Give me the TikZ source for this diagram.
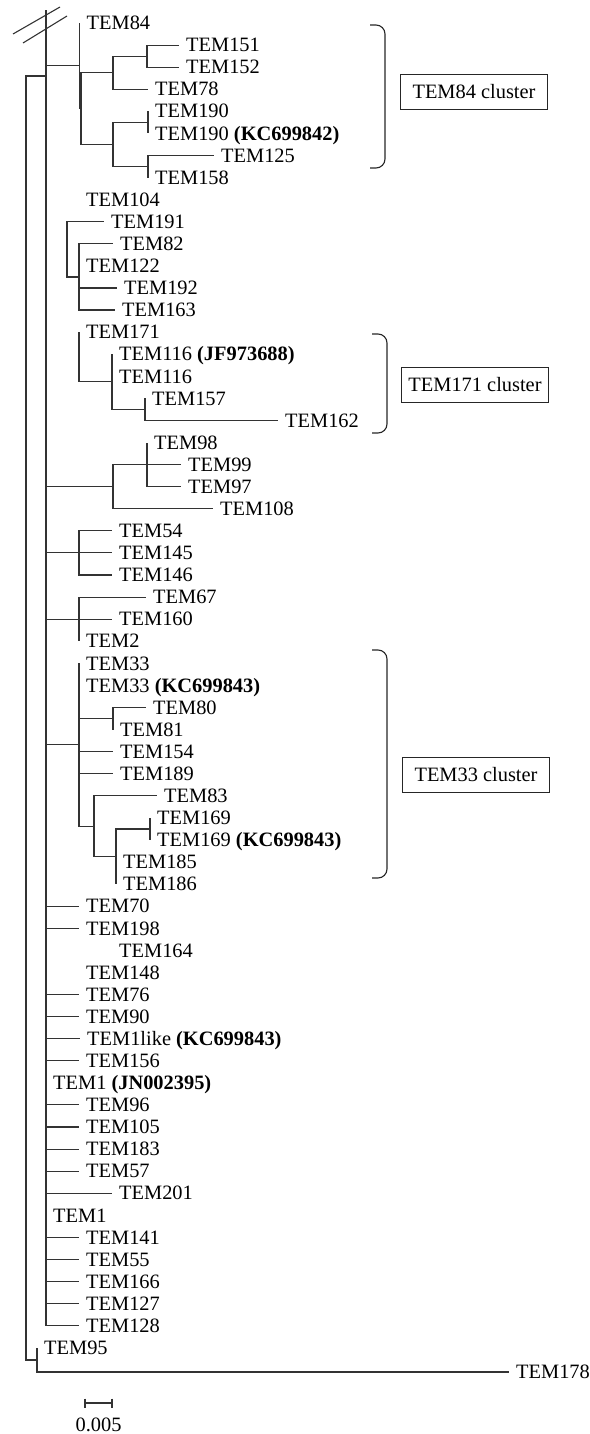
\documentclass[tikz,border=0pt]{standalone}
\usepackage{fontspec}
\setmainfont{Liberation Serif}
\pgfdeclarelayer{edgelayer}
\pgfdeclarelayer{nodelayer}
\pgfsetlayers{edgelayer,nodelayer,main}
\tikzstyle{none}=[inner sep=0mm]
\tikzstyle{leaf}=[anchor=west,inner xsep=7pt,inner ysep=0pt,text height=13.4pt,text depth=0pt,font=\fontsize{20.4}{24}\selectfont]
\tikzstyle{br}=[draw=black!80,line width=1.1pt]
\tikzstyle{brk}=[draw=black!85,line width=1.1pt,rounded corners=9pt]
\tikzstyle{cl}=[draw=black!85,line width=1.1pt,minimum width=147pt,minimum height=35pt,inner sep=0pt,font=\fontsize{20.4}{24}\selectfont]
\tikzstyle{lbl}=[inner sep=0pt,font=\fontsize{20.4}{24}\selectfont]

\begin{document}
\begin{tikzpicture}[x=1pt,y=-1pt]
	\useasboundingbox (0,0) rectangle (589,1434);
	\begin{pgfonlayer}{nodelayer}
		% leaves, one row each
		\node [style=leaf] (0) at (79.5, 23) {TEM84};
		\node [style=leaf] (1) at (179, 45.1) {TEM151};
		\node [style=leaf] (2) at (179, 67.2) {TEM152};
		\node [style=leaf] (3) at (148, 89.2) {TEM78};
		\node [style=leaf] (4) at (148, 111.3) {TEM190};
		\node [style=leaf] (5) at (148, 133.4) {TEM190 \textbf{(KC699842)}};
		\node [style=leaf] (6) at (214, 155.5) {TEM125};
		\node [style=leaf] (7) at (148, 177.6) {TEM158};
		\node [style=leaf] (8) at (79, 199.6) {TEM104};
		\node [style=leaf] (9) at (104, 221.7) {TEM191};
		\node [style=leaf] (10) at (113, 243.8) {TEM82};
		\node [style=leaf] (11) at (79, 265.9) {TEM122};
		\node [style=leaf] (12) at (117, 288) {TEM192};
		\node [style=leaf] (13) at (115, 310) {TEM163};
		\node [style=leaf] (14) at (79, 332.1) {TEM171};
		\node [style=leaf] (15) at (112, 354.2) {TEM116 \textbf{(JF973688)}};
		\node [style=leaf] (16) at (112, 376.3) {TEM116};
		\node [style=leaf] (17) at (145, 398.4) {TEM157};
		\node [style=leaf] (18) at (278, 420.4) {TEM162};
		\node [style=leaf] (19) at (147, 442.5) {TEM98};
		\node [style=leaf] (20) at (181, 464.6) {TEM99};
		\node [style=leaf] (21) at (181, 486.7) {TEM97};
		\node [style=leaf] (22) at (213, 508.8) {TEM108};
		\node [style=leaf] (23) at (112, 530.8) {TEM54};
		\node [style=leaf] (24) at (112, 552.9) {TEM145};
		\node [style=leaf] (25) at (112, 575) {TEM146};
		\node [style=leaf] (26) at (146, 597.1) {TEM67};
		\node [style=leaf] (27) at (112, 619.2) {TEM160};
		\node [style=leaf] (28) at (79, 641.2) {TEM2};
		\node [style=leaf] (29) at (79, 663.3) {TEM33};
		\node [style=leaf] (30) at (79, 685.4) {TEM33 \textbf{(KC699843)}};
		\node [style=leaf] (31) at (146, 707.5) {TEM80};
		\node [style=leaf] (32) at (113, 729.6) {TEM81};
		\node [style=leaf] (33) at (113, 751.6) {TEM154};
		\node [style=leaf] (34) at (113, 773.7) {TEM189};
		\node [style=leaf] (35) at (157, 795.8) {TEM83};
		\node [style=leaf] (36) at (150, 817.9) {TEM169};
		\node [style=leaf] (37) at (150, 840) {TEM169 \textbf{(KC699843)}};
		\node [style=leaf] (38) at (116, 862) {TEM185};
		\node [style=leaf] (39) at (116, 884.1) {TEM186};
		\node [style=leaf] (40) at (79, 906.2) {TEM70};
		\node [style=leaf] (41) at (79, 928.3) {TEM198};
		\node [style=leaf] (42) at (112, 950.4) {TEM164};
		\node [style=leaf] (43) at (79, 972.4) {TEM148};
		\node [style=leaf] (44) at (79, 994.5) {TEM76};
		\node [style=leaf] (45) at (79, 1016.6) {TEM90};
		\node [style=leaf] (46) at (80, 1038.7) {TEM1like \textbf{(KC699843)}};
		\node [style=leaf] (47) at (79, 1060.8) {TEM156};
		\node [style=leaf] (48) at (46, 1082.8) {TEM1 \textbf{(JN002395)}};
		\node [style=leaf] (49) at (79, 1104.9) {TEM96};
		\node [style=leaf] (50) at (79, 1127) {TEM105};
		\node [style=leaf] (51) at (79, 1149.1) {TEM183};
		\node [style=leaf] (52) at (79, 1171.2) {TEM57};
		\node [style=leaf] (53) at (112, 1193.2) {TEM201};
		\node [style=leaf] (54) at (46, 1215.3) {TEM1};
		\node [style=leaf] (55) at (79, 1237.4) {TEM141};
		\node [style=leaf] (56) at (79, 1259.5) {TEM55};
		\node [style=leaf] (57) at (79, 1281.6) {TEM166};
		\node [style=leaf] (58) at (79, 1303.6) {TEM127};
		\node [style=leaf] (59) at (79, 1325.7) {TEM128};
		\node [style=leaf] (60) at (37, 1348) {TEM95};
		\node [style=leaf] (61) at (509, 1372) {TEM178};
		% inner nodes
		\node [style=none] (100) at (26, 718) {};
		\node [style=none] (101) at (46, 76) {};
		\node [style=none] (102) at (46, 10) {};
		\node [style=none] (103) at (37, 1360) {};
		\node [style=none] (110) at (79.5, 65.8) {};
		\node [style=none] (111) at (81, 108.6) {};
		\node [style=none] (112) at (113, 72.7) {};
		\node [style=none] (113) at (147, 56.1) {};
		\node [style=none] (114) at (113, 144.4) {};
		\node [style=none] (115) at (148, 122.3) {};
		\node [style=none] (116) at (148, 166.5) {};
		\node [style=none] (120) at (67, 249.4) {};
		\node [style=none] (121) at (79, 277) {};
		\node [style=none] (130) at (79, 357) {};
		\node [style=none] (131) at (112, 381.8) {};
		\node [style=none] (132) at (145, 409.4) {};
		\node [style=none] (140) at (113, 486.7) {};
		\node [style=none] (141) at (147, 464.6) {};
		\node [style=none] (150) at (79, 552.9) {};
		\node [style=none] (160) at (79, 619.2) {};
		\node [style=none] (170) at (79, 744.7) {};
		\node [style=none] (171) at (113, 718.5) {};
		\node [style=none] (172) at (94, 826.2) {};
		\node [style=none] (173) at (116, 856.5) {};
		\node [style=none] (174) at (150, 829) {};
		% cluster boxes and scale
		\node [style=cl] (84c) at (474, 92) {TEM84 cluster};
		\node [style=cl] (171c) at (475, 385) {TEM171 cluster};
		\node [style=cl] (33c) at (476, 775) {TEM33 cluster};
		\node [style=lbl] (sc) at (98.5, 1425) {0.005};
	\end{pgfonlayer}
	\begin{pgfonlayer}{edgelayer}
		% root and outgroup
		\draw [style=br] (100.center) |- (101.center);
		\draw [style=br] (100.center) |- (103.center);
		\draw [style=br] (103.center) |- (60.west);
		\draw [style=br] (103.center) |- (61.west);
		\draw [style=br] (101.center) -- (102.center);
		\draw [style=br] (13, 34) -- (60, 7);
		\draw [style=br] (23, 43) -- (67, 16);
		% TEM84 cluster
		\draw [style=br] (101.center) |- (110.center);
		\draw [style=br] (110.center) |- (0.west);
		\draw [style=br] (110.center) |- (111.center);
		\draw [style=br] (111.center) |- (112.center);
		\draw [style=br] (111.center) |- (114.center);
		\draw [style=br] (112.center) |- (113.center);
		\draw [style=br] (112.center) |- (3.west);
		\draw [style=br] (113.center) |- (1.west);
		\draw [style=br] (113.center) |- (2.west);
		\draw [style=br] (114.center) |- (115.center);
		\draw [style=br] (114.center) |- (116.center);
		\draw [style=br] (115.center) |- (4.west);
		\draw [style=br] (115.center) |- (5.west);
		\draw [style=br] (116.center) |- (6.west);
		\draw [style=br] (116.center) |- (7.west);
		% TEM191 group
		\draw [style=br] (120.center) |- (9.west);
		\draw [style=br] (120.center) |- (121.center);
		\draw [style=br] (121.center) |- (10.west);
		\draw [style=br] (121.center) |- (11.west);
		\draw [style=br] (121.center) |- (12.west);
		\draw [style=br] (121.center) |- (13.west);
		% TEM171 cluster
		\draw [style=br] (130.center) |- (14.west);
		\draw [style=br] (130.center) |- (131.center);
		\draw [style=br] (131.center) |- (15.west);
		\draw [style=br] (131.center) |- (16.west);
		\draw [style=br] (131.center) |- (132.center);
		\draw [style=br] (132.center) |- (17.west);
		\draw [style=br] (132.center) |- (18.west);
		% TEM98 group
		\draw [style=br] (101.center) |- (140.center);
		\draw [style=br] (140.center) |- (141.center);
		\draw [style=br] (140.center) |- (22.west);
		\draw [style=br] (141.center) |- (19.west);
		\draw [style=br] (141.center) |- (20.west);
		\draw [style=br] (141.center) |- (21.west);
		% TEM54 and TEM67 groups
		\draw [style=br] (101.center) |- (150.center);
		\draw [style=br] (150.center) |- (23.west);
		\draw [style=br] (150.center) |- (24.west);
		\draw [style=br] (150.center) |- (25.west);
		\draw [style=br] (101.center) |- (160.center);
		\draw [style=br] (160.center) |- (26.west);
		\draw [style=br] (160.center) |- (27.west);
		\draw [style=br] (160.center) |- (28.west);
		% TEM33 cluster
		\draw [style=br] (101.center) |- (170.center);
		\draw [style=br] (170.center) |- (29.west);
		\draw [style=br] (170.center) |- (30.west);
		\draw [style=br] (170.center) |- (171.center);
		\draw [style=br] (170.center) |- (33.west);
		\draw [style=br] (170.center) |- (34.west);
		\draw [style=br] (170.center) |- (172.center);
		\draw [style=br] (171.center) |- (31.west);
		\draw [style=br] (171.center) |- (32.west);
		\draw [style=br] (172.center) |- (35.west);
		\draw [style=br] (172.center) |- (173.center);
		\draw [style=br] (173.center) |- (174.center);
		\draw [style=br] (173.center) |- (38.west);
		\draw [style=br] (173.center) |- (39.west);
		\draw [style=br] (174.center) |- (36.west);
		\draw [style=br] (174.center) |- (37.west);
		% single branches off the main line
		\draw [style=br] (101.center) |- (40.west);
		\draw [style=br] (101.center) |- (41.west);
		\draw [style=br] (101.center) |- (44.west);
		\draw [style=br] (101.center) |- (45.west);
		\draw [style=br] (101.center) |- (46.west);
		\draw [style=br] (101.center) |- (47.west);
		\draw [style=br] (101.center) |- (48.west);
		\draw [style=br] (101.center) |- (49.west);
		\draw [style=br] (101.center) |- (50.west);
		\draw [style=br] (101.center) |- (51.west);
		\draw [style=br] (101.center) |- (52.west);
		\draw [style=br] (101.center) |- (53.west);
		\draw [style=br] (101.center) |- (54.west);
		\draw [style=br] (101.center) |- (55.west);
		\draw [style=br] (101.center) |- (56.west);
		\draw [style=br] (101.center) |- (57.west);
		\draw [style=br] (101.center) |- (58.west);
		\draw [style=br] (101.center) |- (59.west);
		% brackets
		\draw [style=brk] (370, 25) -- (385, 25) -- (385, 168) -- (370, 168);
		\draw [style=brk] (372, 334) -- (387, 334) -- (387, 433) -- (372, 433);
		\draw [style=brk] (372, 650) -- (387, 650) -- (387, 878) -- (372, 878);
		% scale bar
		\draw [style=br] (85, 1403) -- (112, 1403);
		\draw [style=br] (85, 1398.5) -- (85, 1407.5);
		\draw [style=br] (112, 1398.5) -- (112, 1407.5);
	\end{pgfonlayer}
\end{tikzpicture}
\end{document}
